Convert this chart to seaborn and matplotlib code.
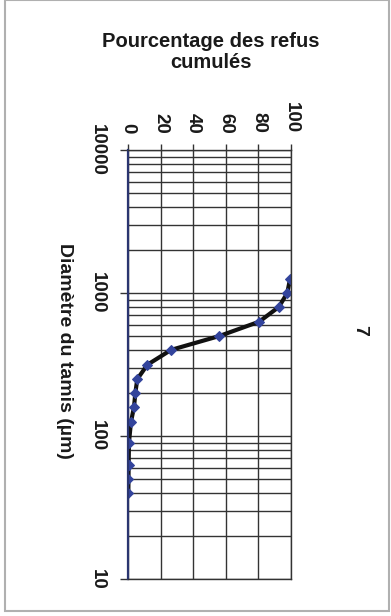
import matplotlib
matplotlib.use("Agg")
import matplotlib.pyplot as plt
import matplotlib.ticker as mticker
from matplotlib.patches import Rectangle
import seaborn as sns
import pandas as pd

# Sieve openings (µm) and cumulative retained percentage
diametre = [1250, 1000, 800, 630, 500, 400, 315, 250, 200, 160, 125, 100, 80, 63, 50, 40]
refus = [99.4, 97.7, 92.6, 80.5, 56.0, 26.4, 11.9, 5.7, 4.5, 3.7, 1.8, 0.6, 0.6, 0.4, 0.3, 0.2]

pct_ticks = [0, 20, 40, 60, 80, 100]
diam_ticks = [10, 100, 1000, 10000]

titre = "Pourcentage des refus\ncumulés"
axe_diam = "Diamètre du tamis (µm)"
numero = "7"

sns.set_theme(style="white")
plt.rcParams["font.family"] = ["Liberation Sans", "DejaVu Sans"]

W, H = 391, 616
fig = plt.figure(figsize=(W / 100, H / 100), dpi=100)
fig.patch.set_facecolor("white")

def fx(px):
    return px / W

def fy(py):
    return 1 - py / H

left, right, top, bottom = 128, 291, 150, 579
ax = fig.add_axes([fx(left), fy(bottom), fx(right - left), (bottom - top) / H])

df = pd.DataFrame({"refus": refus, "diametre": diametre})
sns.lineplot(data=df, x="refus", y="diametre", sort=False, ax=ax,
             color="#111111", lw=3.0, marker="D", markersize=5.5,
             markerfacecolor="#33449c", markeredgecolor="#33449c")

ax.set_yscale("log")
ax.set_ylim(10, 10000)
ax.set_xlim(0, 100)

ax.set_xticks(pct_ticks)
ax.xaxis.tick_top()
ax.set_yticks(diam_ticks)
ax.yaxis.set_major_formatter(mticker.FuncFormatter(lambda v, _: f"{v:g}"))
ax.yaxis.set_minor_locator(mticker.LogLocator(base=10, subs=range(2, 10)))
ax.yaxis.set_minor_formatter(mticker.NullFormatter())

ax.grid(True, which="major", axis="both", color="#333333", lw=1.0)
ax.grid(True, which="minor", axis="y", color="#333333", lw=1.0)
ax.set_axisbelow(True)

ax.tick_params(axis="x", which="major", top=True, bottom=False, direction="out",
               length=4, width=1.0, color="#333", pad=8, labelsize=13.5)
ax.tick_params(axis="y", which="major", left=True, direction="out",
               length=6, width=1.0, color="#333", pad=10, labelsize=13.5)
ax.tick_params(axis="y", which="minor", left=False)

for lab in ax.get_xticklabels():
    lab.set_rotation(270)
    lab.set_ha("center")
    lab.set_va("bottom")
    lab.set_fontweight("bold")
    lab.set_color("#1a1a1a")
for lab in ax.get_yticklabels():
    lab.set_rotation(270)
    lab.set_ha("right")
    lab.set_va("center")
    lab.set_fontweight("bold")
    lab.set_color("#1a1a1a")

for side in ["left", "right", "top", "bottom"]:
    ax.spines[side].set_visible(True)
    ax.spines[side].set_color("#333")
    ax.spines[side].set_linewidth(1.0)
ax.spines["left"].set_color("#2a3570")
ax.spines["left"].set_linewidth(1.6)

ax.set_xlabel("")
ax.set_ylabel("")

fig.text(fx(211), fy(52), titre, ha="center", va="center", fontsize=14.5,
         fontweight="bold", color="#1a1a1a", linespacing=1.15)
fig.text(fx(64), fy(351), axe_diam, ha="center", va="center", rotation=270,
         fontsize=14, fontweight="bold", color="#1a1a1a")
fig.text(fx(360), fy(330), numero, ha="center", va="center", rotation=270,
         fontsize=14, fontweight="bold", color="#1a1a1a")

fig.patches.append(Rectangle((fx(5), fy(611)), fx(384), 611 / H, transform=fig.transFigure,
                             fill=False, edgecolor="#b0b0b0", lw=1.5))

fig.savefig("out.png", dpi=100, facecolor="white")
